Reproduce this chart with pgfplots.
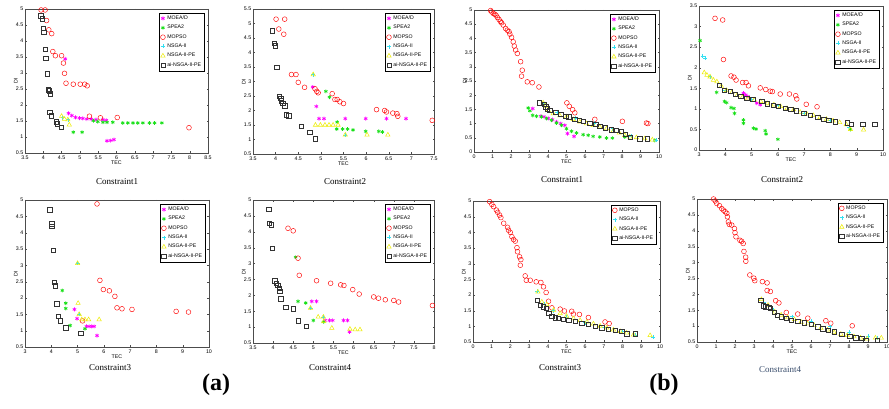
\documentclass[border=0pt]{standalone}
\usepackage{fontspec}
\setmainfont{Liberation Serif}
\setsansfont{Liberation Sans}
\usepackage{pgfplots}
\pgfplotsset{compat=1.18}
\definecolor{mgt}{rgb}{1,0,1}
\definecolor{grn}{rgb}{0.1,0.88,0.1}
\definecolor{cyn}{rgb}{0.2,0.88,0.95}
\definecolor{ylw}{rgb}{0.93,0.93,0.05}
\definecolor{axgray}{gray}{0.3}
\definecolor{sqgray}{gray}{0.2}
\definecolor{titleblue}{rgb}{0.22,0.3,0.42}
\pgfplotsset{
  panel/.style={
    scale only axis, anchor=south west, clip=false,
    axis line style={line width=0.5pt, axgray},
    every tick/.style={line width=0.3pt, axgray},
    tick align=inside, major tick length=1.5pt,
    ticklabel style={font=\fontsize{5.3}{6}\selectfont\sffamily, inner sep=0pt},
    xticklabel style={yshift=-2.2pt},
    yticklabel style={xshift=-1.5pt},
    /pgf/number format/assume math mode=true,
    xlabel={TEC}, ylabel={DI},
    label style={font=\fontsize{5.3}{6}\selectfont\sffamily, inner sep=1pt},
    xlabel style={yshift=0pt}, ylabel style={yshift=-3pt},
    legend style={font=\fontsize{5.2}{6}\selectfont\sffamily, at={(0.98,0.975)}, anchor=north east, draw=black, line width=0.4pt, inner sep=1pt, row sep=0.2pt},
    legend cell align=left,
    legend image code/.code={\draw[mark repeat=2,mark phase=2,#1] plot coordinates {(0cm,0cm) (0.27cm,0cm) (0.54cm,0cm)};},
  },
  moead/.style={only marks, mark=asterisk, mgt, mark size=2pt, line width=0.7pt},
  spea/.style={only marks, mark=asterisk, grn, mark size=1.9pt, line width=0.7pt},
  mopso/.style={only marks, mark=o, red, mark size=2.4pt, line width=0.45pt},
  nsga/.style={only marks, mark=+, cyn, mark size=2pt, line width=0.6pt},
  nsgape/.style={only marks, mark=triangle, ylw, mark size=2.5pt, line width=0.55pt},
  ains/.style={only marks, mark=square, sqgray, mark size=2.2pt, line width=0.45pt},
}
\begin{document}
\begin{tikzpicture}
% ---------------- Panel (a) Constraint1
\begin{axis}[panel, at={(25pt,256pt)}, width=183pt, height=144pt,
  xmin=3.5, xmax=8.5, ymin=0.5, ymax=5,
  xtick={3.5,4,4.5,5,5.5,6,6.5,7,7.5,8,8.5}, ytick={0.5,1,1.5,2,2.5,3,3.5,4,4.5,5}]
\addplot[moead] coordinates {(4.60,3.44) (4.69,1.74) (4.78,1.67) (4.88,1.61) (4.99,1.59) (5.08,1.58) (5.19,1.56) (5.31,1.56) (5.44,1.54) (5.63,1.54) (5.72,1.52) (5.74,0.88) (5.84,0.89) (5.93,0.92)};
\addplot[spea] coordinates {(4.82,1.15) (5.06,1.15) (5.37,1.51) (5.49,1.48) (5.63,1.46) (5.74,1.46) (5.90,1.46) (6.17,1.44) (6.31,1.44) (6.45,1.44) (6.58,1.44) (6.72,1.44) (6.90,1.44) (7.04,1.44) (7.24,1.44)};
\addplot[mopso] coordinates {(3.94,4.97) (4.05,4.97) (4.09,4.64) (4.15,4.35) (4.23,4.23) (4.26,3.67) (4.33,3.54) (4.50,3.54) (4.55,3.31) (4.58,2.99) (4.62,2.68) (4.82,2.65) (5.01,2.65) (5.13,2.65) (5.20,2.60) (5.26,1.65) (5.56,1.60) (6.02,1.61) (7.98,1.29)};
\addplot[nsga] coordinates {(4.53,1.60) (4.67,1.54)};
\addplot[nsgape] coordinates {(4.50,1.65) (4.58,1.56) (4.67,1.54) (4.71,1.38)};
\addplot[ains] coordinates {(3.93,4.79) (3.97,4.69) (3.99,4.40) (4.01,4.27) (4.05,3.75) (4.07,3.46) (4.10,2.98) (4.14,2.48) (4.17,2.44) (4.19,2.35) (4.18,1.77) (4.22,1.67) (4.35,1.48) (4.38,1.42) (4.49,1.30)};
\legend{MOEA/D,SPEA2,MOPSO,NSGA-II,NSGA-II-PE,ai-NSGA-II-PE}
\end{axis}
% ---------------- Panel (a) Constraint2
\begin{axis}[panel, at={(253pt,255pt)}, width=181pt, height=145pt,
  xmin=3.5, xmax=7.5, ymin=0.5, ymax=5.5,
  xtick={3.5,4,4.5,5,5.5,6,6.5,7,7.5}, ytick={0.5,1,1.5,2,2.5,3,3.5,4,4.5,5,5.5}]
\addplot[moead] coordinates {(4.82,2.81) (4.90,2.14) (4.96,1.72) (5.07,1.72) (5.54,1.72) (5.99,1.72) (6.45,1.72) (6.88,1.72)};
\addplot[spea] coordinates {(5.11,2.66) (5.19,2.46) (5.36,1.60) (5.35,1.36) (5.48,1.36) (5.59,1.36) (5.71,1.33) (5.99,1.28) (6.28,1.28) (6.36,1.26)};
\addplot[mopso] coordinates {(4.01,5.15) (4.20,5.15) (4.07,4.81) (4.18,4.63) (4.35,3.24) (4.45,3.24) (4.50,2.97) (4.64,2.80) (4.87,2.75) (4.91,2.66) (4.94,2.61) (5.25,2.58) (5.31,2.38) (5.36,2.38) (5.42,2.30) (5.50,2.24) (6.23,2.03) (6.41,2.00) (6.45,1.95) (6.59,1.91) (6.68,1.89) (6.70,1.80) (7.46,1.66)};
\addplot[nsga] coordinates {(4.83,3.24) (5.54,1.16)};
\addplot[nsgape] coordinates {(4.83,3.24) (4.88,1.50) (4.99,1.50) (5.09,1.50) (5.18,1.50) (5.27,1.50) (5.38,1.50) (5.54,1.16) (6.02,1.16) (6.48,1.16)};
\addplot[ains] coordinates {(3.93,4.75) (3.97,4.31) (3.99,4.23) (4.02,3.49) (4.08,2.49) (4.11,2.43) (4.13,2.34) (4.16,2.26) (4.20,2.17) (4.23,1.85) (4.29,1.82) (4.57,1.45) (4.75,1.26) (4.87,1.03)};
\legend{MOEA/D,SPEA2,MOPSO,NSGA-II,NSGA-II-PE,ai-NSGA-II-PE}
\end{axis}
% ---------------- Panel (b) Constraint1
\begin{axis}[panel, at={(474pt,257pt)}, width=185pt, height=142pt,
  xmin=0, xmax=10, ymin=0, ymax=5,
  xtick={0,1,2,3,4,5,6,7,8,9,10}, ytick={0,0.5,1,1.5,2,2.5,3,3.5,4,4.5,5}]
\addplot[moead] coordinates {(3.17,1.53) (3.62,1.26) (3.79,1.24) (4.01,1.18) (4.24,1.14) (4.46,1.06) (4.69,1.00) (4.91,0.94) (5.05,0.65) (5.41,0.55)};
\addplot[spea] coordinates {(2.93,1.55) (3.02,1.45) (3.17,1.29) (3.38,1.26) (3.65,1.24) (3.92,1.18) (4.19,1.12) (4.46,1.02) (4.73,0.94) (5.00,0.82) (5.27,0.73) (5.54,0.67) (5.90,0.61) (6.17,0.59) (6.44,0.55) (6.80,0.53) (7.16,0.49) (7.48,0.49) (8.15,0.53) (9.77,0.41)};
\addplot[mopso] coordinates {(0.90,4.98) (0.96,4.93) (1.04,4.88) (1.12,4.85) (1.19,4.82) (1.26,4.74) (1.35,4.67) (1.42,4.60) (1.49,4.55) (1.58,4.47) (1.71,4.35) (1.80,4.29) (1.89,4.24) (1.94,4.15) (2.03,4.04) (2.12,3.88) (2.18,3.73) (2.25,3.59) (2.34,3.47) (2.52,3.18) (2.61,2.88) (2.57,2.67) (2.88,2.47) (3.15,2.44) (3.51,2.29) (5.02,1.73) (5.15,1.61) (5.33,1.49) (5.45,1.38) (6.53,1.15) (8.02,1.08) (9.32,1.02) (9.40,1.00)};
\addplot[nsga] coordinates {(3.80,1.70) (4.50,1.40) (5.50,1.18) (6.50,1.02) (7.50,0.82) (8.50,0.55) (9.86,0.41)};
\addplot[nsgape] coordinates {(3.74,1.73) (3.88,1.62) (4.01,1.47) (4.28,1.35) (4.64,1.28) (5.00,1.24) (5.36,1.15) (5.72,1.06) (6.08,1.00) (6.44,0.94) (6.80,0.88) (7.16,0.82) (7.52,0.74) (7.85,0.67) (8.15,0.59) (8.42,0.53) (8.78,0.51) (9.23,0.47) (9.64,0.43)};
\addplot[ains] coordinates {(3.51,1.73) (3.78,1.68) (3.88,1.59) (3.97,1.53) (4.10,1.47) (4.41,1.39) (4.68,1.32) (4.95,1.26) (5.13,1.24) (5.45,1.15) (5.68,1.12) (5.90,1.09) (6.26,1.02) (6.58,0.98) (6.80,0.91) (7.10,0.86) (7.43,0.79) (7.70,0.76) (7.97,0.73) (8.18,0.62) (8.45,0.53) (8.96,0.47) (9.35,0.47)};
\legend{MOEA/D,SPEA2,MOPSO,NSGA-II,NSGA-II-PE,ai-NSGA-II-PE}
\end{axis}
% ---------------- Panel (b) Constraint2
\begin{axis}[panel, at={(699pt,259pt)}, width=184pt, height=144pt,
  xmin=3, xmax=10, ymin=0, ymax=3.5,
  xtick={3,4,5,6,7,8,9,10}, ytick={0,0.5,1,1.5,2,2.5,3,3.5}]
\addplot[moead] coordinates {(4.69,1.38) (4.78,1.34) (4.86,1.30) (5.20,1.14) (5.33,1.10)};
\addplot[spea] coordinates {(3.04,2.66) (3.67,1.40) (3.97,1.18) (4.05,1.15) (4.22,1.03) (4.33,1.01) (4.35,0.89) (4.69,0.73) (4.69,0.65) (5.07,0.53) (5.17,0.51) (5.52,0.47) (5.55,0.39) (6.00,0.26) (8.76,0.50)};
\addplot[mopso] coordinates {(3.61,3.20) (3.90,3.16) (3.93,2.20) (4.22,1.80) (4.33,1.77) (4.41,1.70) (4.66,1.64) (4.79,1.64) (4.88,1.56) (5.33,1.51) (5.54,1.47) (5.71,1.43) (5.79,1.42) (6.09,1.36) (6.44,1.36) (6.68,1.32) (6.72,1.24) (7.08,1.11) (7.49,1.05)};
\addplot[nsga] coordinates {(3.14,2.28) (3.24,2.23) (3.42,1.78) (4.00,1.45) (5.00,1.24) (6.00,1.08) (7.00,0.90) (8.00,0.72) (8.70,0.55)};
\addplot[nsgape] coordinates {(3.20,1.88) (3.30,1.82) (3.42,1.78) (3.55,1.70) (3.68,1.66) (3.85,1.55) (4.05,1.45) (4.25,1.40) (4.45,1.33) (4.65,1.28) (4.85,1.25) (5.10,1.22) (5.35,1.18) (5.60,1.13) (5.85,1.10) (6.10,1.06) (6.35,1.01) (6.60,0.98) (6.85,0.92) (7.10,0.88) (7.35,0.84) (7.60,0.79) (7.85,0.75) (8.10,0.71) (8.35,0.67) (8.60,0.62) (8.76,0.50) (9.26,0.49)};
\addplot[ains] coordinates {(3.78,1.57) (3.97,1.46) (4.18,1.43) (4.37,1.35) (4.59,1.30) (4.82,1.26) (5.05,1.24) (5.39,1.18) (5.60,1.12) (5.83,1.09) (6.02,1.07) (6.28,1.01) (6.49,0.99) (6.70,0.95) (6.98,0.89) (7.23,0.85) (7.51,0.79) (7.74,0.75) (7.93,0.73) (8.18,0.69) (8.63,0.66) (8.78,0.63) (9.23,0.62) (9.68,0.62)};
\legend{MOEA/D,SPEA2,MOPSO,NSGA-II,NSGA-II-PE,ai-NSGA-II-PE}
\end{axis}
% ---------------- Panel (a) Constraint3
\begin{axis}[panel, at={(25pt,62pt)}, width=184pt, height=147pt,
  xmin=3, xmax=10, ymin=0.5, ymax=5,
  xtick={3,4,5,6,7,8,9,10}, ytick={0.5,1,1.5,2,2.5,3,3.5,4,4.5,5}]
\addplot[moead] coordinates {(4.88,1.65) (4.98,1.37) (5.34,1.13) (5.44,1.13) (5.54,1.13) (5.63,1.13) (5.74,0.85)};
\addplot[spea] coordinates {(4.42,2.23) (4.55,1.84) (4.55,1.68) (4.72,1.16) (5.28,1.06)};
\addplot[mopso] coordinates {(5.74,4.88) (5.85,2.54) (5.98,2.26) (6.21,2.22) (6.42,2.05) (6.50,1.70) (6.69,1.67) (7.07,1.65) (8.75,1.59) (9.22,1.57) (5.19,1.30)};
\addplot[nsga] coordinates {(5.00,3.06) (5.06,1.50)};
\addplot[nsgape] coordinates {(5.00,3.06) (5.02,1.84) (5.06,1.50) (5.16,1.34) (5.28,1.34) (5.42,1.34) (5.82,1.34)};
\addplot[ains] coordinates {(3.94,4.70) (4.01,4.27) (4.02,4.19) (4.07,3.46) (4.11,2.49) (4.15,2.38) (4.20,1.82) (4.26,1.44) (4.35,1.30) (4.55,1.09) (5.12,0.92)};
\legend{MOEA/D,SPEA2,MOPSO,NSGA-II,NSGA-II-PE,ai-NSGA-II-PE}
\end{axis}
% ---------------- Panel (a) Constraint4
\begin{axis}[panel, at={(253pt,66pt)}, width=181pt, height=143pt,
  xmin=3.5, xmax=8, ymin=0.5, ymax=5,
  xtick={3.5,4,4.5,5,5.5,6,6.5,7,7.5,8}, ytick={0.5,1,1.5,2,2.5,3,3.5,4,4.5,5}]
\addplot[moead] coordinates {(4.96,1.81) (5.08,1.81) (5.29,1.21) (5.40,1.21) (5.48,1.21) (5.75,1.21) (5.85,1.21) (5.90,0.85)};
\addplot[spea] coordinates {(4.56,3.20) (4.62,1.81) (4.81,1.76) (5.00,1.21) (5.25,1.16)};
\addplot[mopso] coordinates {(4.37,4.11) (4.50,4.03) (4.62,3.17) (4.65,2.63) (5.08,2.46) (5.43,2.38) (5.68,2.33) (5.76,2.31) (5.98,2.18) (6.14,2.04) (6.50,1.95) (6.62,1.91) (6.79,1.86) (7.00,1.84) (7.12,1.79) (7.96,1.68)};
\addplot[nsga] coordinates {(4.93,1.60) (5.25,1.32)};
\addplot[nsgape] coordinates {(4.93,1.60) (5.12,1.32) (5.25,1.32) (5.26,1.18) (5.46,0.97) (5.91,0.94) (6.04,0.92) (6.16,0.92)};
\addplot[ains] coordinates {(3.89,4.71) (3.91,4.27) (3.95,4.22) (3.98,3.48) (4.04,2.46) (4.08,2.38) (4.11,2.31) (4.15,2.23) (4.16,2.12) (4.19,1.89) (4.31,1.63) (4.50,1.58) (4.62,1.20) (4.83,1.03)};
\legend{MOEA/D,SPEA2,MOPSO,NSGA-II,NSGA-II-PE,ai-NSGA-II-PE}
\end{axis}
% ---------------- Panel (b) Constraint3
\begin{axis}[panel, at={(473pt,67pt)}, width=187pt, height=141pt,
  xmin=0, xmax=10, ymin=0.5, ymax=5,
  xtick={0,1,2,3,4,5,6,7,8,9,10}, ytick={0.5,1,1.5,2,2.5,3,3.5,4,4.5,5}]
\addplot[mopso] coordinates {(0.89,4.98) (1.01,4.89) (1.10,4.82) (1.25,4.71) (1.32,4.64) (1.42,4.55) (1.49,4.47) (1.64,4.29) (1.85,4.16) (1.90,4.07) (1.99,4.00) (2.08,3.86) (2.17,3.77) (2.26,3.72) (2.35,3.51) (2.38,3.38) (2.49,3.22) (2.56,3.13) (2.53,2.95) (2.79,2.61) (2.85,2.47) (3.06,2.47) (3.38,2.42) (3.63,2.40) (3.77,2.26) (3.91,2.08) (4.04,1.80) (4.22,1.59) (4.66,1.55) (4.89,1.49) (5.28,1.48) (5.37,1.39) (5.69,1.38) (6.17,1.28) (7.06,1.14) (7.28,1.09)};
\addplot[nsga] coordinates {(3.42,2.12) (3.80,1.70) (4.30,1.50) (5.00,1.30) (6.00,1.12) (7.00,0.98) (8.00,0.83) (8.70,0.72) (9.64,0.66)};
\addplot[nsgape] coordinates {(3.47,2.10) (3.68,1.78) (3.95,1.70) (4.31,1.52) (4.66,1.41) (5.00,1.33) (5.37,1.25) (5.73,1.19) (6.09,1.14) (6.44,1.08) (6.80,1.01) (7.15,0.95) (7.51,0.89) (7.87,0.84) (8.22,0.79) (8.58,0.73) (9.47,0.71)};
\addplot[ains] coordinates {(3.45,1.83) (3.59,1.67) (3.77,1.62) (3.91,1.57) (4.04,1.41) (4.22,1.33) (4.40,1.28) (4.57,1.25) (4.84,1.23) (5.11,1.19) (5.46,1.16) (5.82,1.10) (6.17,1.07) (6.53,1.00) (6.89,0.95) (7.24,0.91) (7.60,0.87) (7.95,0.84) (8.22,0.77) (8.67,0.77)};
\legend{MOPSO,NSGA-II,NSGA-II-PE,ai-NSGA-II-PE}
\end{axis}
% ---------------- Panel (b) Constraint4
\begin{axis}[panel, at={(697pt,67pt)}, width=190pt, height=143pt,
  xmin=0, xmax=10, ymin=0.5, ymax=5,
  xtick={0,1,2,3,4,5,6,7,8,9,10}, ytick={0.5,1,1.5,2,2.5,3,3.5,4,4.5,5}]
\addplot[mopso] coordinates {(0.87,5.00) (0.96,4.94) (1.04,4.86) (1.18,4.79) (1.30,4.70) (1.39,4.65) (1.48,4.60) (1.57,4.55) (1.60,4.44) (1.65,4.28) (1.70,4.20) (1.83,4.18) (1.97,4.07) (2.00,3.94) (2.05,3.81) (2.26,3.70) (2.35,3.67) (2.43,3.60) (2.47,3.35) (2.56,3.17) (2.57,3.04) (2.78,2.61) (2.99,2.51) (3.04,2.43) (3.44,2.40) (3.69,2.36) (3.69,2.12) (3.86,2.09) (4.14,1.80) (4.31,1.73) (4.70,1.43) (5.30,1.38) (5.83,1.25) (6.78,1.17) (7.04,1.09) (8.17,1.01)};
\addplot[nsga] coordinates {(3.50,1.75) (4.00,1.52) (5.00,1.30) (6.00,1.15) (7.00,0.98) (8.00,0.80) (9.00,0.68) (9.48,0.63)};
\addplot[nsgape] coordinates {(3.39,1.84) (3.74,1.66) (4.09,1.45) (4.43,1.35) (4.78,1.27) (5.13,1.21) (5.48,1.13) (5.83,1.08) (6.17,1.02) (6.52,0.94) (6.87,0.88) (7.22,0.80) (7.57,0.75) (7.91,0.71) (8.26,0.67) (8.61,0.63) (8.96,0.60) (9.39,0.63) (9.70,0.63)};
\addplot[ains] coordinates {(3.36,1.82) (3.48,1.64) (3.62,1.61) (3.77,1.59) (3.86,1.56) (4.05,1.43) (4.23,1.35) (4.43,1.30) (4.70,1.25) (4.96,1.19) (5.30,1.16) (5.65,1.11) (6.00,1.06) (6.35,0.98) (6.61,0.92) (6.92,0.87) (7.22,0.82) (7.62,0.74) (8.03,0.69) (8.35,0.64) (8.66,0.61) (8.87,0.56) (9.48,0.56)};
\legend{MOPSO,NSGA-II,NSGA-II-PE,ai-NSGA-II-PE}
\end{axis}
% ---------------- titles
\node[font=\fontsize{9}{9}\selectfont] at (117pt,227pt) {Constraint1};
\node[font=\fontsize{9}{9}\selectfont] at (345pt,227pt) {Constraint2};
\node[font=\fontsize{9}{9}\selectfont] at (562pt,229pt) {Constraint1};
\node[font=\fontsize{9}{9}\selectfont] at (782pt,229pt) {Constraint2};
\node[font=\fontsize{9}{9}\selectfont] at (110pt,41pt) {Constraint3};
\node[font=\fontsize{9}{9}\selectfont] at (330pt,41pt) {Constraint4};
\node[font=\fontsize{9}{9}\selectfont] at (560pt,41pt) {Constraint3};
\node[font=\fontsize{9}{9}\selectfont, text=titleblue] at (780pt,39pt) {Constraint4};
\node[font=\fontsize{24}{24}\selectfont\bfseries] at (216pt,24pt) {(a)};
\node[font=\fontsize{24}{24}\selectfont\bfseries] at (664pt,24pt) {(b)};
\pgfresetboundingbox
\path[use as bounding box] (0pt,0pt) rectangle (889pt,409pt);
\end{tikzpicture}
\end{document}
